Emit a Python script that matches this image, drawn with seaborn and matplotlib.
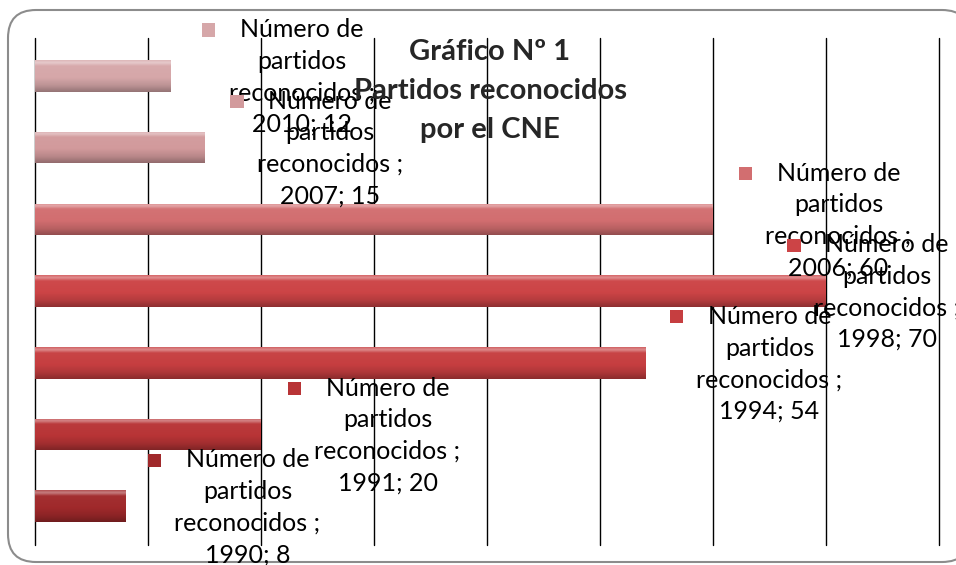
import numpy as np
import pandas as pd
import matplotlib
matplotlib.use("Agg")
import matplotlib.pyplot as plt
import matplotlib.colors as mcolors
from matplotlib.patches import FancyBboxPatch
from matplotlib.transforms import offset_copy
import seaborn as sns

# data (top bar first)
years = ["2010", "2007", "2006", "1998", "1994", "1991", "1990"]
partidos = [12, 15, 60, 70, 54, 20, 8]
bar_colors = ["#d6a7a9", "#d29a9c", "#d26e70", "#cc4446", "#c63e40", "#b83436", "#a0292b"]
label_x = [23.6, 26.1, 71.1, 75.4, 65.0, 31.2, 18.8]  # where each data label sits (x units)

df = pd.DataFrame({"year": years, "n": partidos})

sns.set_style("white")
plt.rcParams["font.family"] = ["Lato", "DejaVu Sans"]

fig = plt.figure(figsize=(9.56, 5.65), dpi=100)
fig.patch.set_facecolor("white")

# rounded frame around the chart area
frame = FancyBboxPatch((8, 3), 962, 552, boxstyle="round,pad=0,rounding_size=28",
                       transform=None, facecolor="white", edgecolor="#8c8c8c", lw=1.5, zorder=-5)
fig.patches.append(frame)

ax = fig.add_axes([35 / 956, 1 - 545 / 565, (939 - 35) / 956, (545 - 38) / 565])
ax.set_facecolor("none")

sns.barplot(data=df, x="n", y="year", hue="year", palette=bar_colors, order=years,
            legend=False, orient="h", width=0.44, ax=ax, zorder=3)

# glossy look: thin light band on top, darker band at the bottom
def shade(c):
    base = np.array(mcolors.to_rgb(c))
    white = np.ones(3)
    stops = [(0.0, base * 0.8 + white * 0.2), (0.07, base * 0.6 + white * 0.4),
             (0.18, base * 0.97 + white * 0.03), (0.55, base), (0.8, base * 0.88), (1.0, base * 0.7)]
    t = np.linspace(0, 1, 40)
    rows = np.array([[np.interp(v, [s[0] for s in stops], [s[1][k] for s in stops]) for k in range(3)] for v in t])
    return rows[:, None, :]

for patch, c in zip(ax.patches, bar_colors):
    x0, y0, w, h = patch.get_x(), patch.get_y(), patch.get_width(), patch.get_height()
    patch.set_edgecolor("none")
    im = ax.imshow(shade(c), extent=(x0, x0 + w, y0 + h, y0), aspect="auto", origin="upper",
                   interpolation="bilinear", zorder=3.5)
    im.set_clip_path(patch)

ax.set_xlim(0, 80)
ax.set_ylim(6.54, -0.53)
ax.set_xticks(range(0, 81, 10))
ax.set_xticklabels([])
ax.set_yticks([])
ax.tick_params(length=0)
ax.set_xlabel("")
ax.set_ylabel("")
ax.xaxis.grid(True, color="black", lw=1)
ax.set_axisbelow(True)
for s in ax.spines.values():
    s.set_visible(False)
for gl in ax.get_xgridlines():
    gl.set_clip_on(False)

# data labels with their small legend key
text_tr = offset_copy(ax.transData, fig=fig, x=0, y=-1, units="dots")
mark_tr = offset_copy(ax.transData, fig=fig, x=-93, y=46, units="dots")
for i, (yr, v) in enumerate(zip(years, partidos)):
    ax.text(label_x[i], i, f"Número de\npartidos\nreconocidos ;\n{yr}; {v}", ha="center", va="center",
            fontsize=18, linespacing=1.45, color="black", zorder=6, clip_on=False, transform=text_tr)
    ax.scatter([label_x[i]], [i], marker="s", s=90, color=bar_colors[i], edgecolor="none",
               transform=mark_tr, zorder=6, clip_on=False)

fig.text(490 / 956, 1 - 91 / 565, "Gráfico Nº 1\nPartidos reconocidos\npor el CNE",
         ha="center", va="center", fontsize=21, fontweight="bold", linespacing=1.6, zorder=7)

fig.savefig("out.png", dpi=100)
